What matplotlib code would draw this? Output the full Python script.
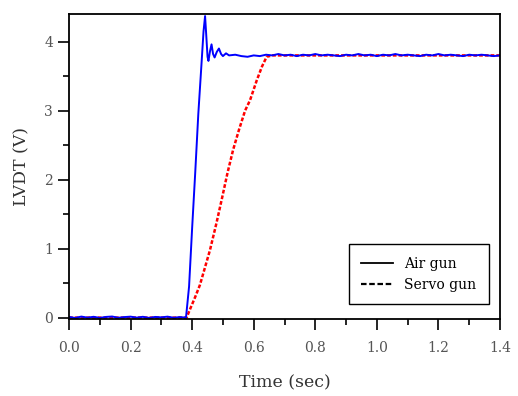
#!/usr/bin/env python3

"""
LVDT step response: air gun vs servo gun.
output: out.png
"""

import matplotlib.pyplot as plt
from matplotlib.lines import Line2D
from matplotlib.ticker import MultipleLocator

# air gun (blue)
AIR_T = [0.000, 0.020, 0.040, 0.060, 0.080, 0.100, 0.120, 0.140, 0.160, 0.180,
         0.200, 0.220, 0.240, 0.260, 0.280, 0.300, 0.320, 0.340, 0.360, 0.380,
         0.390, 0.400, 0.410, 0.420, 0.430, 0.437, 0.442, 0.446, 0.450, 0.453,
         0.458, 0.463, 0.468, 0.473, 0.480, 0.487, 0.494, 0.500, 0.510, 0.520,
         0.540, 0.560, 0.580, 0.600, 0.620, 0.640, 0.660, 0.680, 0.700, 0.720,
         0.740, 0.760, 0.780, 0.800, 0.820, 0.840, 0.860, 0.880, 0.900, 0.920,
         0.940, 0.960, 0.980, 1.000, 1.020, 1.040, 1.060, 1.080, 1.100, 1.120,
         1.140, 1.160, 1.180, 1.200, 1.220, 1.240, 1.260, 1.280, 1.300, 1.320,
         1.340, 1.360, 1.380, 1.400]
AIR_V = [0.010, -0.005, 0.015, 0.000, 0.012, -0.004, 0.010, 0.016, -0.002, 0.008,
         0.014, 0.000, 0.012, -0.004, 0.010, 0.004, 0.014, -0.002, 0.008, 0.000,
         0.450, 1.300, 2.100, 2.950, 3.650, 4.150, 4.370, 4.080, 3.780, 3.720,
         3.860, 3.960, 3.820, 3.770, 3.850, 3.900, 3.820, 3.790, 3.830, 3.800,
         3.810, 3.790, 3.780, 3.800, 3.790, 3.810, 3.800, 3.820, 3.800, 3.810,
         3.790, 3.810, 3.800, 3.820, 3.800, 3.810, 3.800, 3.790, 3.810, 3.800,
         3.820, 3.800, 3.810, 3.790, 3.810, 3.800, 3.820, 3.800, 3.810, 3.800,
         3.790, 3.810, 3.800, 3.820, 3.800, 3.810, 3.800, 3.790, 3.810, 3.800,
         3.810, 3.800, 3.790, 3.800]

# servo gun (red)
SERVO_T = [0.000, 0.100, 0.200, 0.300, 0.382, 0.393, 0.410, 0.425, 0.440, 0.458,
           0.479, 0.496, 0.515, 0.533, 0.552, 0.572, 0.588, 0.610, 0.627, 0.642,
           0.660, 0.800, 1.000, 1.200, 1.400]
SERVO_V = [0.000, 0.000, 0.000, 0.000, 0.000, 0.120, 0.300, 0.470, 0.700, 0.980,
           1.370, 1.710, 2.100, 2.430, 2.720, 3.000, 3.150, 3.440, 3.640, 3.780,
           3.800, 3.800, 3.800, 3.800, 3.800]

LEGEND_LABELS = ["Air gun", "Servo gun"]

plt.rcParams['font.family'] = ['DejaVu Serif']

fig = plt.figure(figsize=(5.18, 3.96), dpi=100)
ax = fig.add_axes([69 / 518, 1 - 319 / 396, 431 / 518, 305 / 396])

ax.plot(SERVO_T, SERVO_V, color='#ff0000', lw=1.8, linestyle=(0, (1.5, 0.8)))
ax.plot(AIR_T, AIR_V, color='#0000ff', lw=1.4)

ax.set_xlim(0, 1.4)
ax.set_ylim(-0.02, 4.4)
ax.xaxis.set_major_locator(MultipleLocator(0.2))
ax.xaxis.set_minor_locator(MultipleLocator(0.1))
ax.yaxis.set_major_locator(MultipleLocator(1))
ax.yaxis.set_minor_locator(MultipleLocator(0.5))
ax.xaxis.set_major_formatter(plt.FuncFormatter(lambda v, p: "%.1f" % v))

ax.tick_params(which='both', direction='out', top=False, right=False,
               width=1.2, labelsize=10, labelcolor='#555555')
ax.tick_params(which='major', length=8)
ax.tick_params(which='minor', length=4.5)
ax.tick_params(axis='x', pad=8)
for sp in ax.spines.values():
    sp.set_linewidth(1.3)

ax.set_xlabel("Time (sec)", fontsize=12.5, color='#333333', labelpad=14)
ax.set_ylabel("LVDT (V)", fontsize=12.5, color='#333333', labelpad=10)

handles = [Line2D([], [], color='black', lw=1.3),
           Line2D([], [], color='black', lw=1.6, linestyle=(0, (2.5, 1.2)))]
leg = ax.legend(handles, LEGEND_LABELS, loc='lower right',
                bbox_to_anchor=(0.9745, 0.049), borderaxespad=0,
                fancybox=False, framealpha=1, edgecolor='black',
                fontsize=10, handlelength=2.3, borderpad=0.9,
                labelspacing=0.5, handletextpad=0.8)
leg.get_frame().set_linewidth(1.0)
leg._legend_box.align = 'left'

plt.savefig("out.png", dpi=100)
